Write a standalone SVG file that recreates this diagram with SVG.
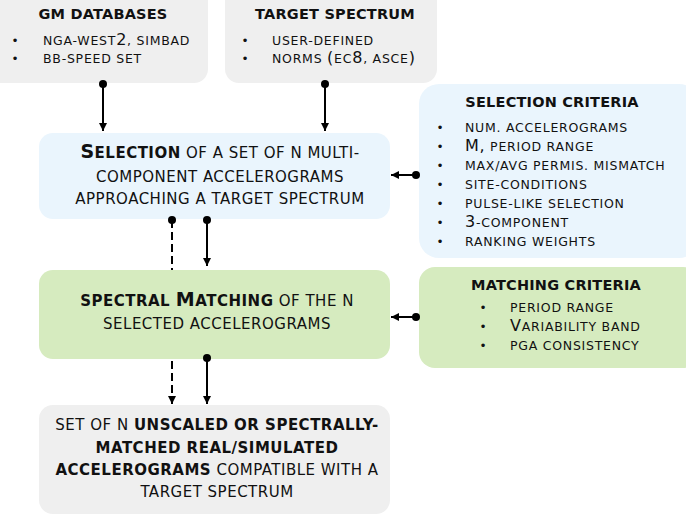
<svg xmlns="http://www.w3.org/2000/svg" width="686" height="515" viewBox="0 0 686 515">
<defs>
<marker id="arr" markerUnits="userSpaceOnUse" markerWidth="10" markerHeight="10" refX="8" refY="5" orient="auto">
<path d="M0,1 L8,5 L0,9 Z" fill="#000"/>
</marker>
<marker id="dot" markerUnits="userSpaceOnUse" markerWidth="10" markerHeight="10" refX="5" refY="5" orient="auto">
<circle cx="5" cy="5" r="4" fill="#000"/>
</marker>
</defs>
<style>
text{font-family:Verdana,"DejaVu Sans",sans-serif;fill:#111}
.grey{fill:#efefef}
.blue{fill:#eaf5fd}
.green{fill:#d6ebbf}
.title{font-size:14.5px;font-weight:bold;text-anchor:middle;letter-spacing:0.2px}
.li{font-size:12.5px;letter-spacing:0.75px}
.big{font-size:16px}
.bul{font-size:12px;text-anchor:middle}
.main{font-size:15px;text-anchor:middle;letter-spacing:0.5px}
.mbig{font-size:19px}
.b{font-weight:bold}
.con{stroke:#000;stroke-width:2;fill:none}
</style>

<g id="gm-databases">
<rect class="grey" x="-14" y="-14" width="222" height="97" rx="14"/>
<text class="title" x="103" y="18.5">GM DATABASES</text>
<text class="bul" x="15" y="45">•</text>
<text class="bul" x="15" y="63">•</text>
<text class="li" x="43" y="45">NGA-WEST<tspan class="big">2</tspan>, SIMBAD</text>
<text class="li" x="43" y="63">BB-SPEED SET</text>
</g>

<g id="target-spectrum">
<rect class="grey" x="225" y="-14" width="212" height="97" rx="14"/>
<text class="title" x="335" y="18.5">TARGET SPECTRUM</text>
<text class="bul" x="245" y="45">•</text>
<text class="bul" x="245" y="63">•</text>
<text class="li" x="272" y="45">USER-DEFINED</text>
<text class="li" x="272" y="63">NORMS <tspan class="big">(</tspan>EC<tspan class="big">8</tspan>, ASCE<tspan class="big">)</tspan></text>
</g>

<g id="selection">
<rect class="blue" x="39" y="133" width="351" height="86" rx="14"/>
<text class="main" x="220" y="158"><tspan class="b mbig">S</tspan><tspan class="b">ELECTION</tspan> OF A SET OF N MULTI-</text>
<text class="main" x="220" y="181.5">COMPONENT ACCELEROGRAMS</text>
<text class="main" x="220" y="203.5">APPROACHING A TARGET SPECTRUM</text>
</g>

<g id="selection-criteria">
<rect class="blue" x="419" y="84" width="280" height="174" rx="20"/>
<text class="title" x="552" y="107">SELECTION CRITERIA</text>
<text class="bul" x="440" y="131.5">•</text>
<text class="bul" x="440" y="150.5">•</text>
<text class="bul" x="440" y="169.5">•</text>
<text class="bul" x="440" y="188.5">•</text>
<text class="bul" x="440" y="207.5">•</text>
<text class="bul" x="440" y="226.5">•</text>
<text class="bul" x="440" y="245.5">•</text>
<text class="li" x="465" y="131.5">NUM. ACCELEROGRAMS</text>
<text class="li" x="465" y="150.5"><tspan class="big">M,</tspan> PERIOD RANGE</text>
<text class="li" x="465" y="169.5">MAX/AVG PERMIS. MISMATCH</text>
<text class="li" x="465" y="188.5">SITE-CONDITIONS</text>
<text class="li" x="465" y="207.5">PULSE-LIKE SELECTION</text>
<text class="li" x="465" y="226.5"><tspan class="big">3</tspan>-COMPONENT</text>
<text class="li" x="465" y="245.5">RANKING WEIGHTS</text>
</g>

<g id="spectral-matching">
<rect class="green" x="39" y="270" width="351" height="89" rx="14"/>
<text class="main" x="217" y="306"><tspan class="b">SPECTRAL </tspan><tspan class="b mbig">M</tspan><tspan class="b">ATCHING</tspan> OF THE N</text>
<text class="main" x="217" y="329">SELECTED ACCELEROGRAMS</text>
</g>

<g id="matching-criteria">
<rect class="green" x="419" y="267" width="280" height="101" rx="16"/>
<text class="title" x="556" y="290">MATCHING CRITERIA</text>
<text class="bul" x="483" y="312">•</text>
<text class="bul" x="483" y="331">•</text>
<text class="bul" x="483" y="349.5">•</text>
<text class="li" x="510" y="312">PERIOD RANGE</text>
<text class="li" x="510" y="331"><tspan class="big">V</tspan>ARIABILITY BAND</text>
<text class="li" x="510" y="349.5">PGA CONSISTENCY</text>
</g>

<g id="result">
<rect class="grey" x="39" y="405" width="351" height="109" rx="14"/>
<text class="main" x="217" y="430">SET OF N <tspan class="b">UNSCALED OR SPECTRALLY-</tspan></text>
<text class="main b" x="217" y="452.5">MATCHED REAL/SIMULATED</text>
<text class="main" x="217" y="475"><tspan class="b">ACCELEROGRAMS</tspan> COMPATIBLE WITH A</text>
<text class="main" x="217" y="497">TARGET SPECTRUM</text>
</g>

<g id="connectors">
<path class="con" d="M103,84 V131" marker-start="url(#dot)" marker-end="url(#arr)"/>
<path class="con" d="M325,84 V131" marker-start="url(#dot)" marker-end="url(#arr)"/>
<path class="con" d="M416,175 H391" marker-start="url(#dot)" marker-end="url(#arr)"/>
<path class="con" d="M416,317 H391" marker-start="url(#dot)" marker-end="url(#arr)"/>
<path class="con" d="M207,220 V266" marker-start="url(#dot)" marker-end="url(#arr)"/>
<path class="con" d="M207,358 V404" marker-start="url(#dot)" marker-end="url(#arr)"/>
<path class="con" d="M172,220 V270" stroke-dasharray="8 4" marker-start="url(#dot)"/>
<path class="con" d="M172,361 V404" stroke-dasharray="8 4" marker-end="url(#arr)"/>
</g>
</svg>
